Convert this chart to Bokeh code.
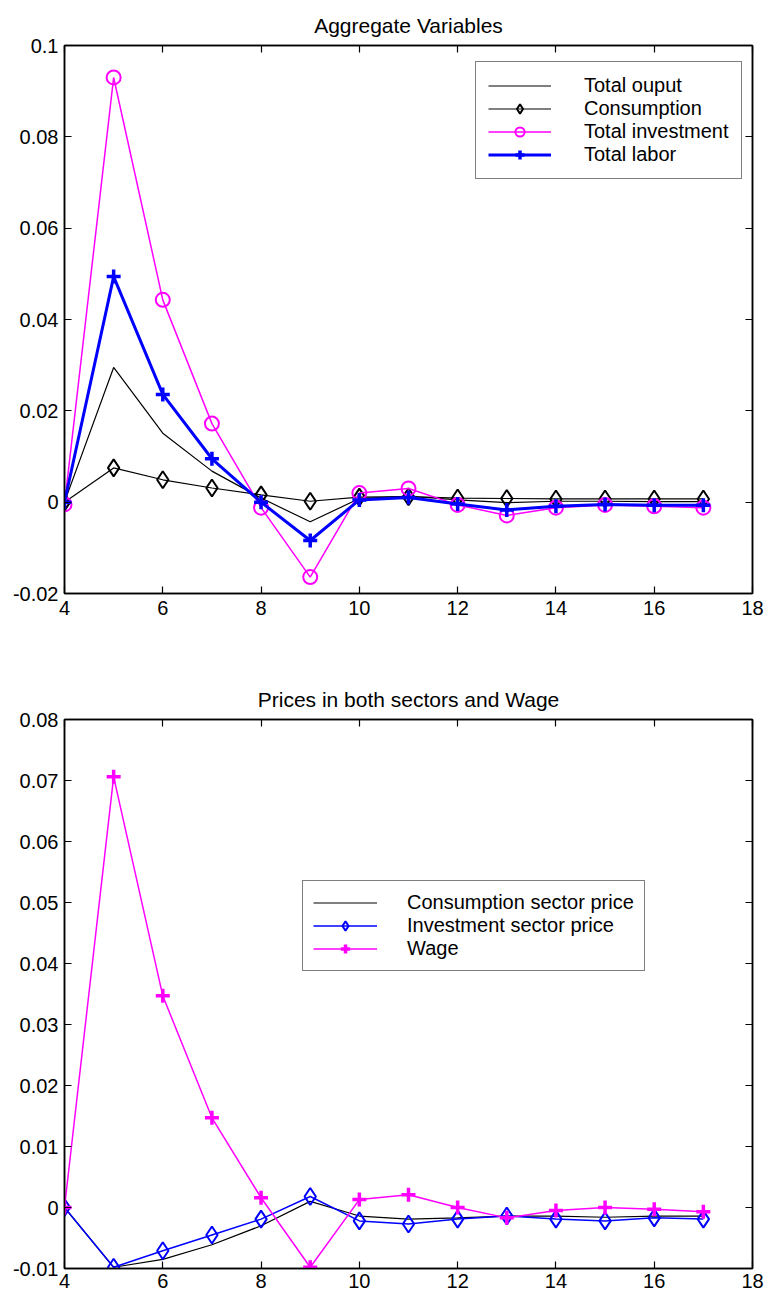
from bokeh.plotting import figure
from bokeh.models import (FixedTicker, CustomJSTickFormatter, LinearAxis, Legend,
                          LegendItem, Range1d)
from bokeh.layouts import column
from bokeh.embed import file_html
from bokeh.resources import INLINE

FONT = "Liberation Sans"

# ---------------- data ----------------
periods = [4, 5, 6, 7, 8, 9, 10, 11, 12, 13, 14, 15, 16, 17]

total_output = [0.0, 0.0295, 0.0151, 0.0068, 0.0009, -0.0043, 0.0008, 0.0013,
                0.0005, -0.0001, 0.0002, 0.0002, 0.0001, 0.0001]
consumption = [0.0, 0.0075, 0.0049, 0.0031, 0.0016, 0.0002, 0.0011, 0.0012,
               0.0009, 0.0008, 0.0007, 0.0007, 0.0007, 0.0007]
total_investment = [-0.0005, 0.0930, 0.0443, 0.0172, -0.0012, -0.0164, 0.0020, 0.0030,
                    -0.0006, -0.0029, -0.0012, -0.0006, -0.0009, -0.0012]
total_labor = [0.0, 0.0494, 0.0236, 0.0095, 0.0000, -0.0084, 0.0005, 0.0010,
               -0.0004, -0.0017, -0.0009, -0.0005, -0.0007, -0.0007]

cons_price = [0.0, -0.0098, -0.0085, -0.0061, -0.0030, 0.0010, -0.0014, -0.0019,
              -0.0017, -0.0014, -0.0014, -0.0016, -0.0014, -0.0014]
inv_price = [0.0, -0.0098, -0.0071, -0.0045, -0.0019, 0.0018, -0.0022, -0.0027,
             -0.0019, -0.0014, -0.0019, -0.0022, -0.0017, -0.0019]
wage = [0.0, 0.0706, 0.0347, 0.0147, 0.0016, -0.0098, 0.0013, 0.0021,
        0.0000, -0.0017, -0.0005, 0.0000, -0.0003, -0.0007]

x_ticks = [4, 6, 8, 10, 12, 14, 16, 18]
y_ticks_top = [-0.02, 0.0, 0.02, 0.04, 0.06, 0.08, 0.1]
y_ticks_bottom = [-0.01, 0.0, 0.01, 0.02, 0.03, 0.04, 0.05, 0.06, 0.07, 0.08]

title_top = "Aggregate Variables"
title_bottom = "Prices in both sectors and Wage"
labels_top = ["Total ouput", "Consumption", "Total investment", "Total labor"]
labels_bottom = ["Consumption sector price", "Investment sector price", "Wage"]

BLACK = "#000000"
MAGENTA = "#FF00FF"
BLUE = "#0000FF"

fmt_js = "return Number(tick.toFixed(4)).toString();"


def make_fig(title, yticks, ylo, yhi, height, btop, bbot, xstand):
    p = figure(width=769, height=height, output_backend="svg", toolbar_location=None,
               x_range=Range1d(4, 18), y_range=Range1d(ylo, yhi),
               min_border_left=64, min_border_right=17,
               min_border_top=btop, min_border_bottom=bbot,
               background_fill_color="white", border_fill_color="white")
    p.title.text = title
    p.title.align = "center"
    p.title.text_font = FONT
    p.title.text_font_size = "21px"
    p.title.text_font_style = "normal"
    p.title.text_color = "black"
    p.title.standoff = 17
    p.grid.visible = False
    p.outline_line_color = "black"
    p.outline_line_width = 1.5

    xt = FixedTicker(ticks=x_ticks)
    yt = FixedTicker(ticks=yticks)
    p.xaxis.ticker = xt
    p.yaxis.ticker = yt
    p.xaxis.formatter = CustomJSTickFormatter(code=fmt_js)
    p.yaxis.formatter = CustomJSTickFormatter(code=fmt_js)
    for ax in (p.xaxis[0], p.yaxis[0]):
        ax.major_tick_in = 7
        ax.major_tick_out = 0
        ax.minor_tick_line_color = None
        ax.axis_line_width = 1.5
        ax.major_tick_line_width = 1.2
        ax.major_label_text_font = FONT
        ax.major_label_text_font_size = "20px"
        ax.major_label_text_color = "black"
    p.yaxis[0].major_label_standoff = 6
    p.xaxis[0].major_label_standoff = xstand

    for side, tk in (("right", yt), ("above", xt)):
        ax = LinearAxis(ticker=tk, formatter=CustomJSTickFormatter(code="return '';"),
                        major_tick_in=7, major_tick_out=0, minor_tick_line_color=None,
                        axis_line_width=1.5, major_tick_line_width=1.2,
                        major_label_standoff=0, major_label_text_font_size="0px")
        p.add_layout(ax, side)
    return p


def legend(items, loc, standoff, gw, pad):
    return Legend(items=items, location=loc, label_text_font=FONT,
                  label_text_font_size="20px", label_text_color="black",
                  glyph_width=gw, glyph_height=23, label_height=23,
                  label_standoff=standoff, spacing=0, padding=pad, margin=0,
                  border_line_color="black", border_line_width=1.5,
                  background_fill_color="white", background_fill_alpha=1.0)


# ---------------- top figure ----------------
p1 = make_fig(title_top, y_ticks_top, -0.02, 0.1, 644, 45, 51, 7)

r_out = p1.line(periods, total_output, line_color=BLACK, line_width=1.2)

r_c_l = p1.line(periods, consumption, line_color=BLACK, line_width=1.2)
r_c_m = p1.scatter(periods, consumption, marker="diamond", size=17, line_color=BLACK,
                   fill_color=None, line_width=2)

r_i_l = p1.line(periods, total_investment, line_color=MAGENTA, line_width=1.5)
r_i_m = p1.scatter(periods, total_investment, marker="circle", size=14, line_color=MAGENTA,
                   fill_color=None, line_width=2)

r_l_l = p1.line(periods, total_labor, line_color=BLUE, line_width=3)
r_l_m = p1.scatter(periods, total_labor, marker="cross", size=14, line_color=BLUE,
                   line_width=3.5)

leg1 = legend([
    LegendItem(label=labels_top[0], renderers=[r_out]),
    LegendItem(label=labels_top[1], renderers=[r_c_l, r_c_m]),
    LegendItem(label=labels_top[2], renderers=[r_i_l, r_i_m]),
    LegendItem(label=labels_top[3], renderers=[r_l_l, r_l_m]),
], (411, 414), 33, 63, 12)
p1.add_layout(leg1)

# ---------------- bottom figure ----------------
p2 = make_fig(title_bottom, y_ticks_bottom, -0.01, 0.08, 652, 75, 28, 5)

r_cp = p2.line(periods, cons_price, line_color=BLACK, line_width=1.2)

r_ip_l = p2.line(periods, inv_price, line_color=BLUE, line_width=1.5)
r_ip_m = p2.scatter(periods, inv_price, marker="diamond", size=17, line_color=BLUE,
                    fill_color=None, line_width=2)

r_w_l = p2.line(periods, wage, line_color=MAGENTA, line_width=1.5)
r_w_m = p2.scatter(periods, wage, marker="cross", size=14, line_color=MAGENTA,
                   line_width=3.5)

leg2 = legend([
    LegendItem(label=labels_bottom[0], renderers=[r_cp]),
    LegendItem(label=labels_bottom[1], renderers=[r_ip_l, r_ip_m]),
    LegendItem(label=labels_bottom[2], renderers=[r_w_l, r_w_m]),
], (238, 297), 30, 64, 10)
p2.add_layout(leg2)

layout = column(p1, p2, spacing=0)

with open("out.html", "w") as f:
    f.write(file_html(layout, INLINE))
